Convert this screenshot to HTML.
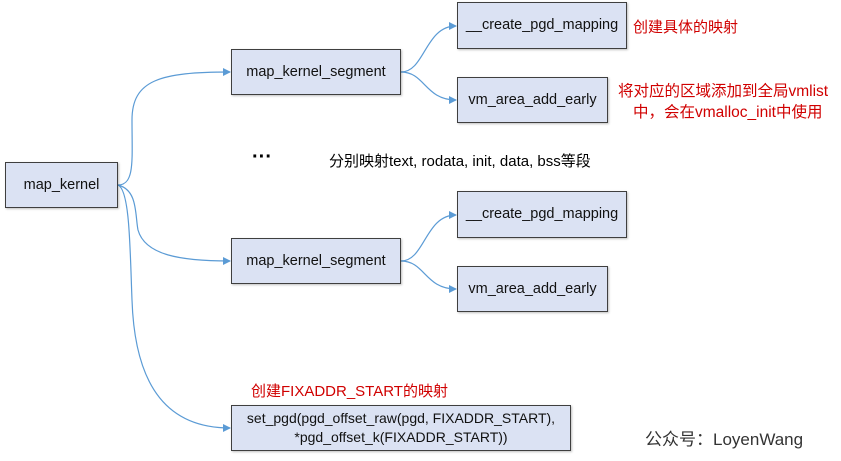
<!DOCTYPE html>
<html><head><meta charset="utf-8"><style>
body{margin:0;width:841px;height:461px;background:#fff;position:relative;overflow:hidden;font-family:"Liberation Sans","Noto Sans CJK SC",sans-serif;}
.b{position:absolute;box-sizing:border-box;background:#dbe2f3;border:1.5px solid #3f3f3f;box-shadow:1px 1px 2px rgba(0,0,0,.25);display:flex;align-items:center;justify-content:center;text-align:center;font-size:14.5px;color:#111;line-height:19px;white-space:nowrap;}
.t{position:absolute;font-size:15px;white-space:nowrap;}
.r{color:#d00000;}
svg{position:absolute;left:0;top:0;}
</style></head><body>
<svg width="841" height="461">
<defs><marker id="a" markerWidth="8" markerHeight="8" refX="7" refY="4" orient="auto" markerUnits="userSpaceOnUse"><path d="M0,0 L8,4 L0,8z" fill="#5b9bd5"/></marker></defs>
<g fill="none" stroke="#5b9bd5" stroke-width="1.2">
<path d="M118,185 C135,185 132,160 132,120 C132,80 160,72 230,72" marker-end="url(#a)"/>
<path d="M118,185 C138,190 135,215 138,230 C145,255 180,261 230,261" marker-end="url(#a)"/>
<path d="M118,185 C130,190 130,250 132,300 C135,390 170,428 230,428" marker-end="url(#a)"/>
<path d="M401,72 C425,72 425,26 456,26" marker-end="url(#a)"/>
<path d="M401,72 C425,72 425,100 456,100" marker-end="url(#a)"/>
<path d="M401,261 C425,261 425,215 456,215" marker-end="url(#a)"/>
<path d="M401,261 C425,261 425,289 456,289" marker-end="url(#a)"/>
</g></svg>
<div class="b" style="left:5px;top:162px;width:113px;height:46px">map_kernel</div>
<div class="b" style="left:231px;top:49px;width:170px;height:46px">map_kernel_segment</div>
<div class="b" style="left:457px;top:2px;width:170px;height:47px">__create_pgd_mapping</div>
<div class="b" style="left:457px;top:77px;width:151px;height:46px">vm_area_add_early</div>
<div class="b" style="left:231px;top:238px;width:170px;height:46px">map_kernel_segment</div>
<div class="b" style="left:457px;top:191px;width:170px;height:47px">__create_pgd_mapping</div>
<div class="b" style="left:457px;top:266px;width:151px;height:46px">vm_area_add_early</div>
<div class="b" style="left:231px;top:405px;width:340px;height:46px;font-size:14px">set_pgd(pgd_offset_raw(pgd, FIXADDR_START),<br>*pgd_offset_k(FIXADDR_START))</div>
<div class="t r" style="left:633px;top:16px">创建具体的映射</div>
<div class="t r" style="left:618px;top:79px;font-size:15.5px">将对应的区域添加到全局vmlist</div>
<div class="t r" style="left:633px;top:100px;font-size:15.5px">中，会在vmalloc_init中使用</div>
<div class="t" style="left:252px;top:146px;font-size:20px;font-weight:bold">···</div>
<div class="t" style="left:329px;top:150px">分别映射text, rodata, init, data, bss等段</div>
<div class="t r" style="left:251px;top:380px">创建FIXADDR_START的映射</div>
<div class="t" style="left:645px;top:425px;font-size:17px;color:#333">公众号：LoyenWang</div>
</body></html>
